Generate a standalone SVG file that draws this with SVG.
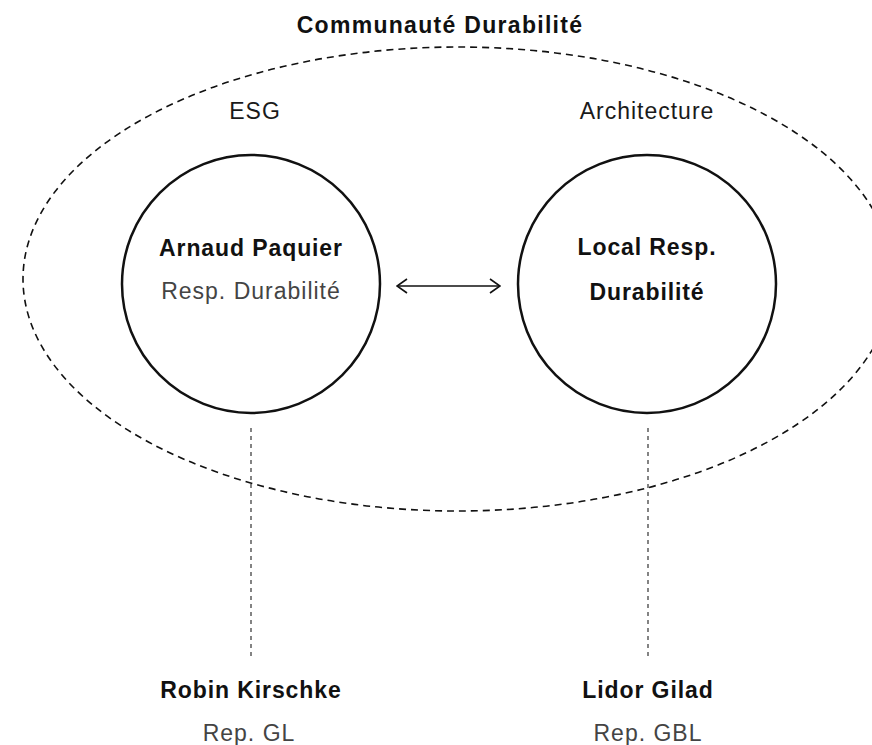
<svg xmlns="http://www.w3.org/2000/svg" width="872" height="745" viewBox="0 0 872 745">
<style>
  text { font-family: "Liberation Sans", Arial, sans-serif; text-anchor: middle; fill: #111; }
  .b { font-weight: bold; font-size: 23px; letter-spacing: 0.9px; }
  .t { letter-spacing: 1.3px; }
  .r { font-size: 23px; letter-spacing: 1px; fill: #1a1a1a; }
  .g { fill: #444; }
  .circle { fill: none; stroke: #111; stroke-width: 2.5; }
  .ell { fill: none; stroke: #111; stroke-width: 1.6; stroke-dasharray: 7 5; }
  .vline { stroke: #333; stroke-width: 1.2; stroke-dasharray: 4 4; }
  .arrow { stroke: #111; stroke-width: 1.6; fill: none; }
</style>
<defs>
  <marker id="ah" viewBox="0 0 12 16" refX="11" refY="8" markerWidth="12" markerHeight="16" markerUnits="userSpaceOnUse" orient="auto-start-reverse">
    <path d="M1,1 L11,8 L1,15" fill="none" stroke="#111" stroke-width="1.6"/>
  </marker>
</defs>
<rect width="872" height="745" fill="#fff"/>
<g id="community">
  <ellipse class="ell" cx="458" cy="279" rx="435" ry="232"/>
  <text class="b t" x="440" y="33">Communauté Durabilité</text>
  <text class="r" x="255" y="119">ESG</text>
  <text class="r" x="647" y="119">Architecture</text>
</g>
<g id="connectors">
  <line class="vline" x1="251" y1="428" x2="251" y2="660"/>
  <line class="vline" x1="648" y1="428" x2="648" y2="660"/>
  <line class="arrow" x1="397" y1="286" x2="500" y2="286" marker-start="url(#ah)" marker-end="url(#ah)"/>
</g>
<g id="arnaud">
  <circle class="circle" cx="251" cy="284" r="129"/>
  <text class="b" x="251" y="256">Arnaud Paquier</text>
  <text class="r g" x="251" y="299">Resp. Durabilité</text>
</g>
<g id="local">
  <circle class="circle" cx="647" cy="284" r="129"/>
  <text class="b" x="647" y="255">Local Resp.</text>
  <text class="b" x="647" y="300">Durabilité</text>
</g>
<g id="robin">
  <text class="b" x="251" y="698">Robin Kirschke</text>
  <text class="r g" x="249" y="741">Rep. GL</text>
</g>
<g id="lidor">
  <text class="b" x="648" y="698">Lidor Gilad</text>
  <text class="r g" x="648" y="741">Rep. GBL</text>
</g>
</svg>
